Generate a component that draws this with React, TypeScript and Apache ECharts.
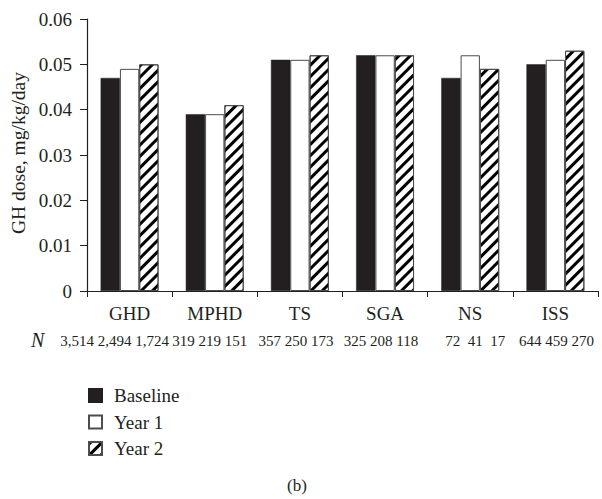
import React, { useEffect, useRef } from "react";
import * as echarts from "echarts";

const categories = ["GHD", "MPHD", "TS", "SGA", "NS", "ISS"];
const nCounts = [
  "3,514 2,494 1,724",
  "319 219 151",
  "357 250 173",
  "325 208 118",
  "72  41  17",
  "644 459 270",
];
const baseline = [0.047, 0.039, 0.051, 0.052, 0.047, 0.05];
const year1 = [0.049, 0.039, 0.051, 0.052, 0.052, 0.051];
const year2 = [0.05, 0.041, 0.052, 0.052, 0.049, 0.053];
const yTicks = [0, 0.01, 0.02, 0.03, 0.04, 0.05, 0.06];
const yTitle = "GH dose, mg/kg/day";

const FONT = "'Liberation Serif', 'DejaVu Serif', serif";
const INK = "#231f20";

export default function App() {
  const ref = useRef<HTMLDivElement>(null);
  useEffect(() => {
    if (!ref.current) return;
    const chart = echarts.init(ref.current, null, { renderer: "svg" });
    const catIndex: Record<string, number> = {};
    categories.forEach((c, i) => (catIndex[c] = i));
    const nShift = [30, 10, 8, 8, -10, -2];
    const rich: Record<string, any> = {
      c: { fontFamily: FONT, fontSize: 19, color: INK, lineHeight: 26 },
    };
    nShift.forEach((s, i) => {
      rich["n" + i] = {
        fontFamily: FONT,
        fontSize: 15,
        color: INK,
        lineHeight: 30,
        padding: s > 0 ? [0, s, 0, 0] : [0, 0, 0, -s],
      };
    });
    chart.setOption({
      animation: false,
      backgroundColor: "#fff",
      textStyle: { fontFamily: FONT, color: INK },
      grid: { left: 87, right: 4, top: 19, bottom: 208, containLabel: false },
      legend: {
        orient: "vertical",
        left: 83,
        top: 381,
        icon: "rect",
        itemWidth: 13,
        itemHeight: 13,
        itemGap: 7.5,
        textStyle: { fontFamily: FONT, fontSize: 19, lineHeight: 19, color: INK, padding: [0, 0, 0, 7] },
        data: ["Baseline", "Year 1", "Year 2"],
      },
      xAxis: {
        type: "category",
        data: categories,
        axisLine: { lineStyle: { color: INK, width: 1.2 } },
        axisTick: { show: true, length: 6, lineStyle: { color: INK } },
        axisLabel: {
          margin: 9,
          interval: 0,
          formatter: (v: string) => {
            const i = catIndex[v];
            return `{c|${v}}\n{n${i}|${nCounts[i]}}`;
          },
          rich,
        },
      },
      yAxis: {
        type: "value",
        min: 0,
        max: 0.06,
        interval: 0.01,
        axisLine: { show: true, lineStyle: { color: INK, width: 1.2 } },
        axisTick: { show: true, length: 7, lineStyle: { color: INK } },
        splitLine: { show: false },
        axisLabel: {
          fontFamily: FONT,
          fontSize: 19,
          color: INK,
          margin: 15,
          formatter: (v: number) => {
            const t = yTicks.find((x) => Math.abs(x - v) < 1e-9);
            return t === 0 ? "0" : (t ?? v).toFixed(2);
          },
        },
      },
      series: [
        {
          name: "Baseline",
          type: "bar",
          data: baseline,
          barGap: "0%",
          barCategoryGap: "32%",
          itemStyle: { color: INK, borderColor: INK, borderWidth: 0.5 },
        },
        {
          name: "Year 1",
          type: "bar",
          data: year1,
          barGap: "0%",
          barCategoryGap: "32%",
          itemStyle: { color: "#ffffff", borderColor: "#4d4d4d", borderWidth: 1 },
        },
        {
          name: "Year 2",
          type: "bar",
          data: year2,
          barGap: "0%",
          barCategoryGap: "32%",
          itemStyle: {
            color: "#ffffff",
            borderColor: "#4d4d4d",
            borderWidth: 1,
            decal: {
              symbol: "rect",
              symbolSize: 1,
              color: "#000000",
              backgroundColor: "#ffffff",
              dashArrayX: [1, 0],
              dashArrayY: [3, 4.4],
              rotation: -Math.PI / 4,
            },
          },
        },
      ],
      graphic: [
        {
          type: "text",
          x: 18,
          y: 153,
          rotation: Math.PI / 2,
          style: {
            text: yTitle,
            fontFamily: FONT,
            fontSize: 19.5,
            fill: INK,
            align: "center",
            verticalAlign: "middle",
          },
        },
        {
          type: "text",
          left: 31,
          top: 330,
          style: { text: "N", fontFamily: FONT, fontSize: 20, fontStyle: "italic", fill: INK },
        },
        {
          type: "text",
          left: 287,
          top: 477,
          style: { text: "(b)", fontFamily: FONT, fontSize: 17, fill: INK },
        },
      ],
    });
    return () => chart.dispose();
  }, []);
  return (
    <div
      ref={ref}
      style={{ position: "absolute", left: 0, top: 0, width: 602, height: 499 }}
    />
  );
}
